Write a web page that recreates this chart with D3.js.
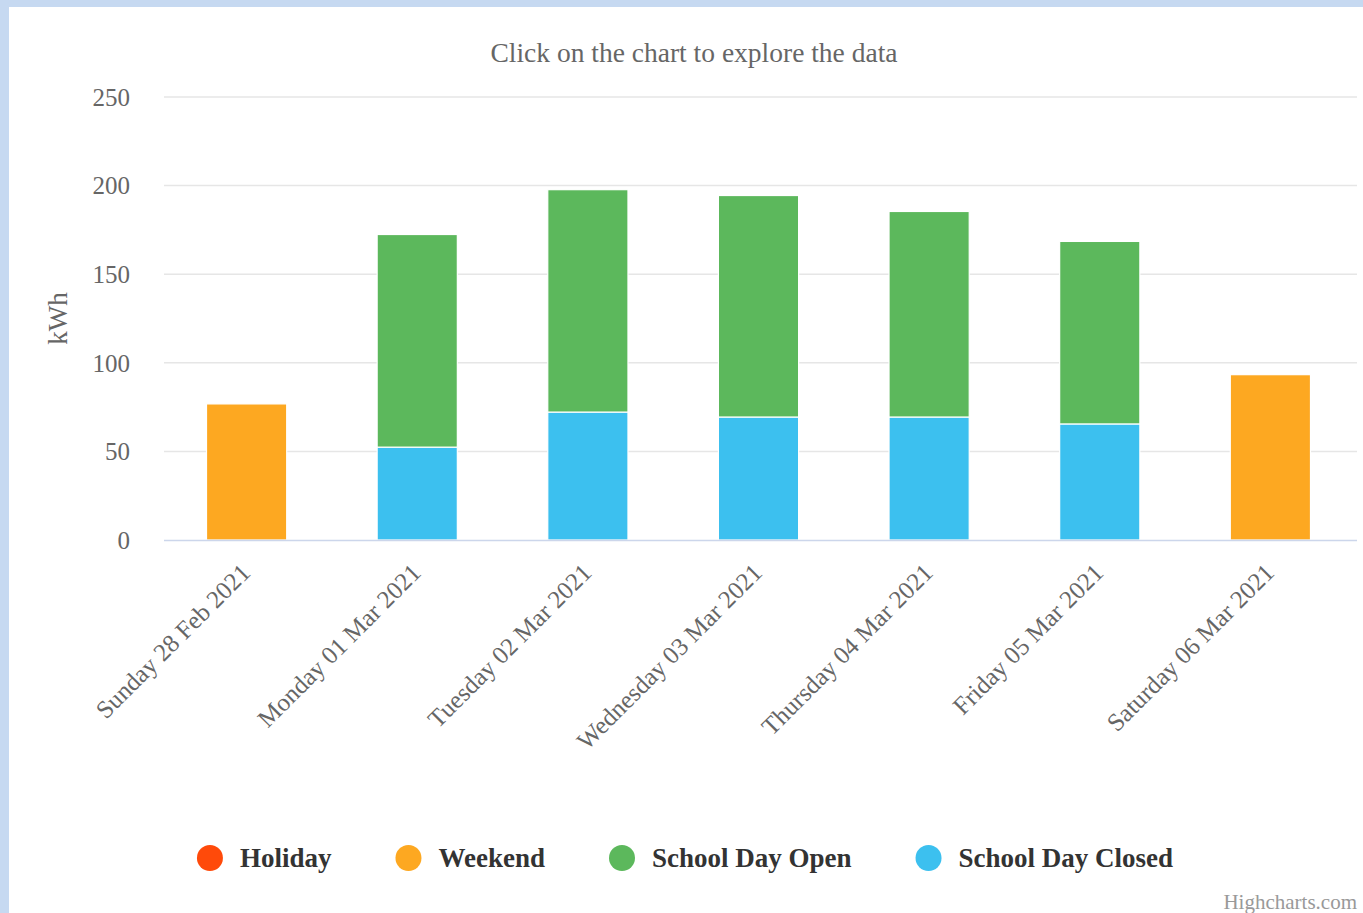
<!DOCTYPE html>
<html><head><meta charset="utf-8">
<script src="https://cdn.jsdelivr.net/npm/d3@7"></script>
<style>
html,body{margin:0;padding:0;background:#c6d9f1;}
svg{display:block;}
</style></head>
<body>
<svg id="chart" width="1363" height="913"></svg>
<script>
const categories = ["Sunday 28 Feb 2021","Monday 01 Mar 2021","Tuesday 02 Mar 2021","Wednesday 03 Mar 2021","Thursday 04 Mar 2021","Friday 05 Mar 2021","Saturday 06 Mar 2021"];
const seriesNames = ["Holiday","Weekend","School Day Open","School Day Closed"];
const seriesColors = ["#ff4a0a","#fda821","#5cb85c","#3cc0ef"];
const holiday = [0,0,0,0,0,0,0];
const weekend = [76.8,0,0,0,0,0,93.3];
const schoolDayOpen = [0,120,125.5,125,116,103,0];
const schoolDayClosed = [0,52.4,72.2,69.4,69.4,65.5,0];
const yTicks = [0,50,100,150,200,250];

const serif = "'Liberation Serif','Times New Roman',serif";
const svg = d3.select("#chart");
svg.append("rect").attr("x",9).attr("y",7).attr("width",1363-9).attr("height",913-7).attr("fill","#ffffff");

const m = {left:164, right:1357, top:97, bottom:540};
const x = d3.scaleBand().domain(categories).range([m.left-1,m.right-3]).paddingInner(0.53).paddingOuter(0.255);
const y = d3.scaleLinear().domain([0,250]).range([m.bottom,m.top]);

// grid
svg.append("g").selectAll("line").data(yTicks.filter(d=>d>0)).join("line")
  .attr("x1",m.left).attr("x2",m.right).attr("y1",d=>y(d)).attr("y2",d=>y(d))
  .attr("stroke","#e6e6e6").attr("stroke-width",1.5);

// y tick labels
svg.append("g").selectAll("text").data(yTicks).join("text")
  .attr("x",130).attr("y",d=>y(d)).attr("dy","0.35em").attr("text-anchor","end")
  .attr("font-family",serif).attr("font-size",25).attr("fill","#666666").text(d=>d);

// y title
svg.append("text").attr("transform",`translate(67,${(m.top+m.bottom)/2}) rotate(-90)`)
  .attr("text-anchor","middle").attr("font-family",serif).attr("font-size",27).attr("fill","#666666").text("kWh");

// stacked bars (stack order: closed at bottom, then open, weekend, holiday)
const rows = categories.map((c,i)=>({cat:c,"Holiday":holiday[i],"Weekend":weekend[i],"School Day Open":schoolDayOpen[i],"School Day Closed":schoolDayClosed[i]}));
const stackKeys = ["School Day Closed","School Day Open","Weekend","Holiday"];
const stacked = d3.stack().keys(stackKeys)(rows);
const colorOf = k => seriesColors[seriesNames.indexOf(k)];
svg.append("g").selectAll("g").data(stacked).join("g").attr("fill",s=>colorOf(s.key))
  .selectAll("rect").data(s=>s.filter(d=>d[1]-d[0]>0)).join("rect")
  .attr("x",d=>x(d.data.cat)).attr("width",x.bandwidth())
  .attr("y",d=>y(d[1])).attr("height",d=>y(d[0])-y(d[1]))
  .attr("stroke","#ffffff").attr("stroke-width",1.2);

// x axis line
svg.append("line").attr("x1",m.left).attr("x2",m.right).attr("y1",m.bottom+0.5).attr("y2",m.bottom+0.5)
  .attr("stroke","#ccd6eb").attr("stroke-width",1.5);

// x labels
svg.append("g").selectAll("text").data(categories).join("text")
  .attr("transform",d=>`translate(${x(d)+x.bandwidth()/2-1},${m.bottom+28}) rotate(-45)`)
  .attr("text-anchor","end").attr("dy","0.35em")
  .attr("font-family",serif).attr("font-size",25).attr("fill","#666666").text(d=>d);

// title
svg.append("text").attr("x",694).attr("y",62).attr("text-anchor","middle")
  .attr("font-family",serif).attr("font-size",27.5).attr("fill","#666666").text("Click on the chart to explore the data");

// legend
const lg = svg.append("g");
const items = lg.selectAll("g").data(seriesNames).join("g");
items.append("circle").attr("r",13).attr("cx",13).attr("cy",0).attr("fill",(d,i)=>seriesColors[i]);
items.append("text").attr("x",43).attr("y",0).attr("dy","0.35em")
  .attr("font-family",serif).attr("font-size",27).attr("font-weight","bold").attr("fill","#333333").text(d=>d);
let off = 0; const gap = 64; const widths=[];
items.each(function(){ const w = 43 + d3.select(this).select("text").node().getComputedTextLength(); widths.push(w); });
const total = d3.sum(widths) + gap*(widths.length-1);
let start = 685 - total/2;
items.attr("transform",(d,i)=>{ const t=`translate(${start+off},858)`; off += widths[i]+gap; return t; });

// credits
svg.append("text").attr("x",1357).attr("y",909).attr("text-anchor","end")
  .attr("font-family",serif).attr("font-size",21).attr("fill","#999999").text("Highcharts.com");
</script>
</body></html>
